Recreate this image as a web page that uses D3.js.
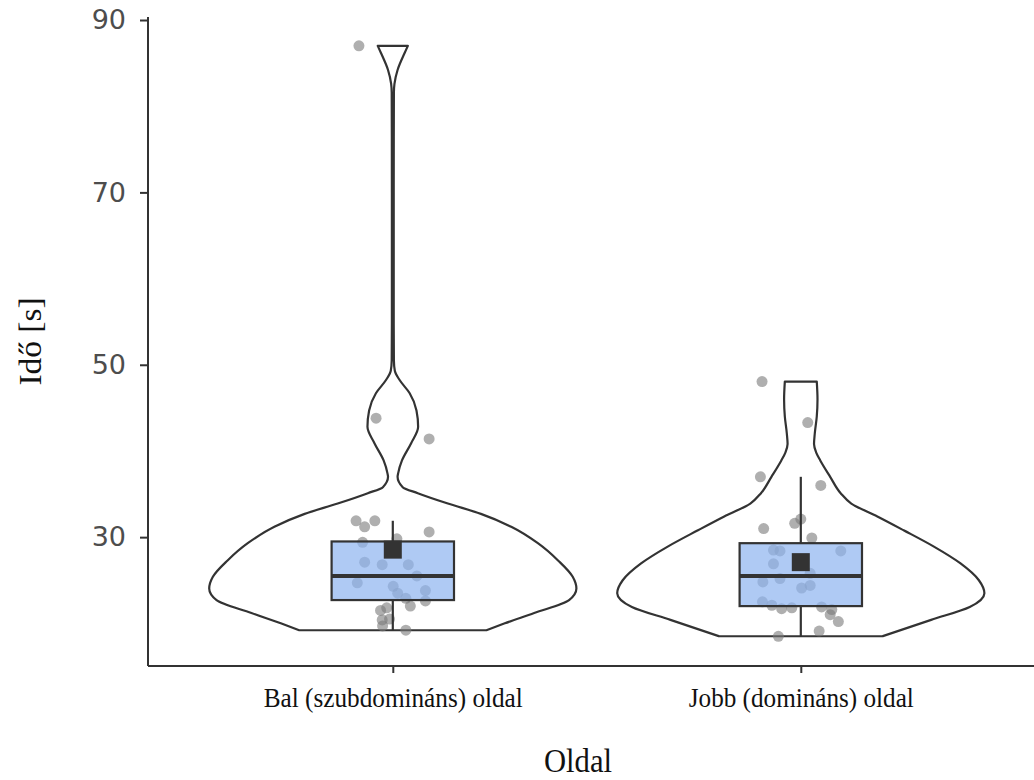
<!DOCTYPE html>
<html>
<head>
<meta charset="utf-8">
<script src="https://cdn.jsdelivr.net/npm/d3@7"></script>
<style>
  html, body { margin: 0; padding: 0; background: #fff; }
  svg { display: block; }
</style>
</head>
<body>
<svg id="chart"></svg>
<script>
// categories
const groups = ["Bal (szubdomináns) oldal", "Jobb (domináns) oldal"];
const yTicks = [30, 50, 70, 90];

// observations: [value, jitter offset in category steps]
const balPoints = [
  [87.0, -0.083], [43.8, -0.041], [41.4, 0.089], [31.9, -0.090], [31.2, -0.069],
  [31.9, -0.044], [30.6, 0.089], [29.4, -0.074], [29.8, 0.010], [27.1, -0.069],
  [26.8, -0.026], [26.8, 0.038], [25.5, 0.059], [24.7, -0.087], [24.3, 0.001],
  [23.8, 0.080], [23.5, 0.012], [22.9, 0.032], [22.6, 0.080], [22.0, 0.043],
  [21.5, -0.030], [21.8, -0.015], [20.4, -0.026], [20.5, -0.008], [19.7, -0.025],
  [19.2, 0.032]
];
const jobbPoints = [
  [48.05, -0.095], [43.3, 0.017], [37.0, -0.099], [36.0, 0.049], [31.0, -0.091],
  [31.6, -0.015], [32.1, 0.000], [29.9, 0.027], [28.5, -0.067], [28.4, -0.051],
  [28.4, 0.098], [26.9, -0.067], [25.8, 0.023], [25.2, -0.051], [24.8, -0.093],
  [24.1, 0.002], [24.4, 0.023], [22.5, -0.094], [22.1, -0.071], [21.7, -0.047],
  [21.8, -0.022], [21.9, 0.051], [21.6, 0.076], [21.0, 0.072], [20.2, 0.092],
  [19.1, 0.045], [18.5, -0.055]
];

// violin outlines: [value, relative half-width]
const balViolin = [
  [87.0, 0.082], [86.2, 0.065], [84.2, 0.026], [82.6, 0.009], [81.6, 0.006],
  [70.0, 0.005], [55.0, 0.005], [50.5, 0.006], [49.3, 0.011], [48.2, 0.038],
  [46.7, 0.092], [44.7, 0.129], [42.8, 0.138], [40.9, 0.100], [38.9, 0.050],
  [37.4, 0.029], [37.0, 0.026], [35.8, 0.054], [35.1, 0.136], [33.9, 0.300],
  [32.7, 0.480], [31.2, 0.645], [29.3, 0.790], [27.3, 0.900], [25.4, 0.980],
  [24.05, 1.000], [22.7, 0.960], [21.2, 0.770], [20.0, 0.610], [19.2, 0.510]
];
const jobbViolin = [
  [48.05, 0.087], [46.0, 0.091], [44.0, 0.087], [42.0, 0.076], [40.8, 0.072],
  [39.8, 0.084], [38.9, 0.106], [37.0, 0.160], [35.1, 0.217], [33.9, 0.275],
  [32.4, 0.417], [30.8, 0.560], [28.9, 0.725], [26.95, 0.870], [25.0, 0.970],
  [23.5, 1.000], [21.9, 0.920], [20.4, 0.710], [18.5, 0.445]
];

// box statistics: [whisker low, q1, median, q3, whisker high, mean]
const balBox = [19.2, 22.7, 25.5, 29.5, 31.9, 28.55];
const jobbBox = [18.5, 22.0, 25.5, 29.3, 37.0, 27.1];

(function() {
  const INK = "#333333";
  const width = 1034;
  const height = 780;

  const svg = d3.select("#chart")
    .attr("width", width)
    .attr("height", height);

  const left = 148, top = 17, bottom = 666;

  const x = d3.scalePoint()
    .domain(groups)
    .range([left, left + 2.2 * 408])
    .padding(0.6);
  const step = x.step();

  const y = d3.scaleLinear()
    .domain([15.05, 90.35])
    .range([bottom, top]);

  const data = [
    { name: groups[0], points: balPoints, violin: balViolin, box: balBox },
    { name: groups[1], points: jobbPoints, violin: jobbViolin, box: jobbBox }
  ];

  const plot = svg.append("g");

  // violins
  data.forEach(d => {
    const cx = x(d.name);
    const hw = 0.45 * step;
    const area = d3.area()
      .y(p => y(p[0]))
      .x0(p => cx - p[1] * hw)
      .x1(p => cx + p[1] * hw)
      .curve(d3.curveMonotoneY);
    plot.append("path")
      .datum(d.violin)
      .attr("d", area)
      .attr("fill", "#ffffff")
      .attr("stroke", INK)
      .attr("stroke-width", 2.2)
      .attr("stroke-linejoin", "round");
  });

  // jittered points
  data.forEach(d => {
    const cx = x(d.name);
    plot.append("g")
      .selectAll("circle")
      .data(d.points)
      .join("circle")
      .attr("cx", p => cx + p[1] * step)
      .attr("cy", p => y(p[0]))
      .attr("r", 5.5)
      .attr("fill", "#7a7a7a")
      .attr("fill-opacity", 0.6);
  });

  // boxes
  data.forEach(d => {
    const cx = x(d.name);
    const bw = 0.15 * step;
    const [lo, q1, med, q3, hi, mean] = d.box;
    const g = plot.append("g");

    g.append("line")
      .attr("x1", cx).attr("x2", cx)
      .attr("y1", y(q3)).attr("y2", y(hi))
      .attr("stroke", INK).attr("stroke-width", 2.2);
    g.append("line")
      .attr("x1", cx).attr("x2", cx)
      .attr("y1", y(q1)).attr("y2", y(lo))
      .attr("stroke", INK).attr("stroke-width", 2.2);

    g.append("rect")
      .attr("x", cx - bw)
      .attr("y", y(q3))
      .attr("width", 2 * bw)
      .attr("height", y(q1) - y(q3))
      .attr("fill", "#8db3f0")
      .attr("fill-opacity", 0.7)
      .attr("stroke", INK)
      .attr("stroke-width", 2.2);

    g.append("line")
      .attr("x1", cx - bw).attr("x2", cx + bw)
      .attr("y1", y(med)).attr("y2", y(med))
      .attr("stroke", INK).attr("stroke-width", 4);

    g.append("rect")
      .attr("x", cx - 9)
      .attr("y", y(mean) - 9)
      .attr("width", 18)
      .attr("height", 18)
      .attr("fill", INK);
  });

  // axes
  const yAxis = svg.append("g")
    .attr("transform", `translate(${left},0)`)
    .call(d3.axisLeft(y).tickValues(yTicks).tickSizeOuter(0).tickSize(8).tickPadding(14));
  yAxis.select(".domain").attr("d", `M0,${top}V${bottom}`);

  const xAxis = svg.append("g")
    .attr("transform", `translate(0,${bottom})`)
    .call(d3.axisBottom(x).tickSizeOuter(0).tickSize(7).tickPadding(14));
  xAxis.select(".domain").attr("d", `M${left},0H${width}`);

  svg.selectAll(".domain")
    .attr("stroke", INK)
    .attr("stroke-width", 2);
  svg.selectAll(".tick line")
    .attr("stroke", INK)
    .attr("stroke-width", 2);

  yAxis.selectAll(".tick text")
    .attr("font-family", "DejaVu Sans, sans-serif")
    .attr("font-size", 27)
    .attr("fill", "#4d4d4d");

  const labelWidths = [259, 225];
  xAxis.selectAll(".tick text")
    .attr("font-family", "Liberation Serif, serif")
    .attr("font-size", 28)
    .attr("fill", "#111")
    .attr("textLength", (d, i) => labelWidths[i])
    .attr("lengthAdjust", "spacingAndGlyphs");

  // axis titles
  svg.append("text")
    .attr("x", 578)
    .attr("y", 772)
    .attr("text-anchor", "middle")
    .attr("font-family", "Liberation Serif, serif")
    .attr("font-size", 33)
    .attr("fill", "#111")
    .attr("textLength", 68)
    .attr("lengthAdjust", "spacingAndGlyphs")
    .text("Oldal");

  svg.append("text")
    .attr("transform", `translate(41,${(top + bottom) / 2}) rotate(-90)`)
    .attr("text-anchor", "middle")
    .attr("font-family", "Liberation Serif, serif")
    .attr("font-size", 32)
    .attr("fill", "#111")
    .attr("textLength", 88)
    .attr("lengthAdjust", "spacingAndGlyphs")
    .text("Idő [s]");
})();
</script>
</body>
</html>
